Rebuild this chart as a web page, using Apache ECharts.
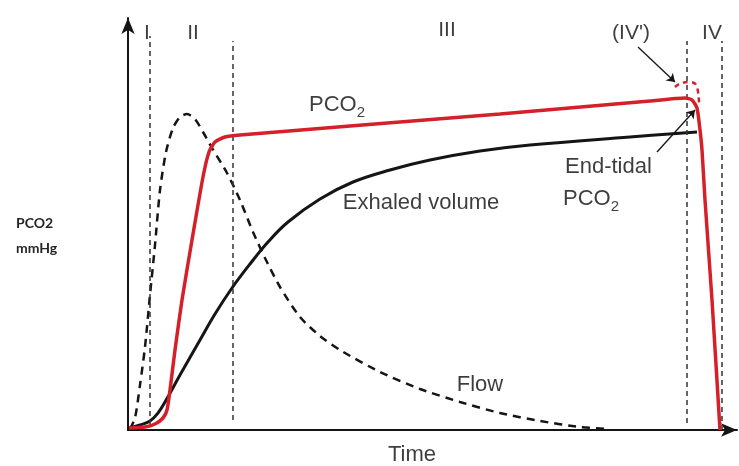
<!DOCTYPE html>
<html>
<head>
<meta charset="utf-8">
<script src="https://cdn.jsdelivr.net/npm/echarts@6/dist/echarts.min.js"></script>
<style>html,body{margin:0;padding:0;background:#fff}#c{width:739px;height:466px}</style>
</head>
<body>
<div id="c"></div>
<script>
// Data (x: time units, y: PCO2 / relative units)
const pco2 = [[1,2],[17,3],[27,6],[35,12],[39,20],[42,40],[47,80],[54,130],[64,190],[75,253],[81,278],[87,288],[97,293],[112,295],[222,304],[372,316],[522,329],[557,332],[564,330],[569,322],[572,300],[574,280],[577,230],[584,130],[592,0]];
const exhaledVolume = [[1,2],[12,5],[22,9],[30,17],[37,28],[52,55],[72,90],[87,116],[104,142],[122,166],[140,188],[160,208],[192,231],[225,248],[262,260],[302,270],[352,279],[402,285],[502,293],[569,298]];
const flow = [[2,1],[7,12],[12,45],[17,83],[22,135],[27,185],[32,240],[38,278],[45,302],[52,313],[59,316],[67,311],[75,298],[84,282],[99,257],[112,230],[125,198],[137,172],[152,143],[172,113],[192,94],[212,80],[252,58],[292,41],[332,28],[372,17],[412,9],[452,3],[482,1]];
const pco2Alt = [[547,343],[554,347],[562,348],[569,343],[571,327]];
const phaseLines = [[22,5,394],[105,10,389],[559,7,389],[594,0,389]];
const phaseLabels = [['I',19,397],['II',65,397],['III',319,400],["(IV')",503,397],['IV',584,397]];
const curveLabels = [['PCO{s|2}',209,325,'center'],['Exhaled volume',293,227,'center'],['End-tidal',437,263,'left'],['PCO{s|2}',435,231,'left'],['Flow',352,45,'center'],['Time',284,-25,'center']];
const arrows = [[[510,383],[547,348]],[[529,278],[567,320]]];

const RED = '#d5202a';
const INK = '#151515';
const TXT = '#0d0d0d';
const FONT = 'Liberation Sans';

const chart = echarts.init(document.getElementById('c'));
chart.setOption({
  animation: false,
  title: {
    text: 'PCO2\nmmHg', left: 11, top: 206,
    textStyle: {fontFamily: 'Lato', fontSize: 14, fontWeight: 'bold', color: '#262626', lineHeight: 25}
  },
  grid: {left: 128, right: 2, top: 18, bottom: 36},
  xAxis: {
    type: 'value', min: 0, max: 609,
    axisLine: {show: true, symbol: ['none', 'arrow'], symbolSize: [10, 16], lineStyle: {color: INK, width: 2}},
    axisTick: {show: false}, axisLabel: {show: false}, splitLine: {show: false}
  },
  yAxis: {
    type: 'value', min: 0, max: 412,
    axisLine: {show: true, symbol: ['none', 'arrow'], symbolSize: [10, 16], lineStyle: {color: INK, width: 2}},
    axisTick: {show: false}, axisLabel: {show: false}, splitLine: {show: false}
  },
  series: [
    {
      type: 'line', data: flow, showSymbol: false, smooth: 0.25, z: 3,
      lineStyle: {color: INK, width: 2.5, type: [8, 6]},
      markLine: {
        silent: true, symbol: ['none', 'none'], label: {show: false},
        lineStyle: {color: '#333', width: 1.5, type: [5, 4]},
        data: phaseLines.map(p => [{coord: [p[0], p[1]]}, {coord: [p[0], p[2]]}])
      }
    },
    {
      type: 'line', data: exhaledVolume, showSymbol: false, smooth: 0.4, z: 4,
      lineStyle: {color: INK, width: 3}
    },
    {
      type: 'line', data: pco2, showSymbol: false, smooth: 0.2, z: 5,
      lineStyle: {color: RED, width: 3.5}
    },
    {
      type: 'line', data: pco2Alt, showSymbol: false, smooth: 0.5, z: 5,
      lineStyle: {color: RED, width: 2.5, type: [5, 4]}
    },
    {
      type: 'lines', coordinateSystem: 'cartesian2d', z: 6,
      symbol: ['none', 'arrow'], symbolSize: 8,
      lineStyle: {color: INK, width: 1.3, opacity: 1},
      data: arrows.map(a => ({coords: a}))
    },
    {
      type: 'scatter', symbolSize: 0, clip: false, z: 7,
      data: phaseLabels.map(l => ({name: l[0], value: [l[1], l[2]]})),
      label: {show: true, position: 'inside', formatter: '{b}', color: TXT, textBorderWidth: 0, fontFamily: FONT, fontSize: 21}
    },
    {
      type: 'scatter', symbolSize: 0, clip: false, z: 7,
      data: curveLabels.map(l => ({name: l[0], value: [l[1], l[2]], label: {align: l[3]}})),
      label: {
        show: true, position: 'inside', formatter: '{b}', color: TXT, textBorderWidth: 0, fontFamily: FONT, fontSize: 22, lineHeight: 30,
        rich: {s: {fontFamily: FONT, fontSize: 15, lineHeight: 12, verticalAlign: 'bottom', color: TXT, textBorderWidth: 0}}
      }
    }
  ]
});
</script>
</body>
</html>
